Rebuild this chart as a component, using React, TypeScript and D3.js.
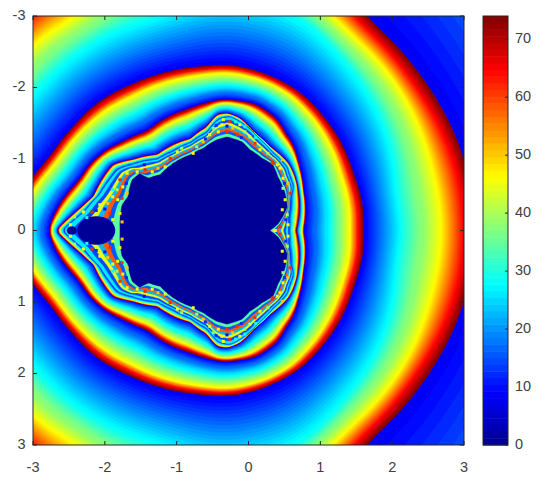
import React from "react";
import * as d3 from "d3";

// Iso-lines, upper half only (the picture mirrors about y = 0), in axis units.
type P = [number, number];
const centre: P = [-0.6, 0];
const farBlue: P[] = [[4.2,0],[3.9,-1.5],[3.1,-3.2],[1,-5.2],[-1,-6],[-4,-5],[-7,-2],[-7,0]];
const ring0: P[] = [[3.13,0],[3,-0.99],[2.44,-2.1],[1.6,-3],[0,-4.5],[-1,-4.5],[-3.3,-3.3],[-4.5,-1.8],[-5.4,0]];
const iso65: P[] = [[3,0],[2.99,-0.43],[2.86,-0.99],[2.3,-2.06],[1.5,-2.95],[0,-4.2],[-1,-4.2],[-3,-3.05],[-4,-1.7],[-5,0]];
const iso46: P[] = [[2.68,0],[2.54,-0.89],[2.08,-2],[1.28,-2.85],[1.17,-3],[0,-3.75],[-1,-3.8],[-2.35,-3],[-3,-2.6],[-3.7,-1.5],[-4.6,0]];
const iso28: P[] = [[2.16,0],[2.07,-0.4],[1.88,-1.5],[1.28,-2.43],[0.7,-3],[-0.3,-3.25],[-1.26,-3],[-3,-1.9],[-3.6,-1],[-4,0]];
const ring1: P[] = [[1.6,0],[1.59,-0.33],[1.46,-0.8],[1.28,-1.25],[1.05,-1.59],[0.68,-1.96],[0.21,-2.2],[-0.25,-2.31],[-0.67,-2.29],[-1.19,-2.2],[-1.65,-2.03],[-2.11,-1.78],[-2.44,-1.45],[-2.76,-1.03],[-3,-0.75],[-3.4,0]];
const ring2: P[] = [[0.76,0],[0.76,-0.57],[0.7,-0.92],[0.62,-1.2],[0.48,-1.41],[0.44,-1.52],[0.12,-1.76],[-0.35,-1.83],[-0.81,-1.71],[-1.19,-1.55],[-1.41,-1.39],[-1.75,-1.24],[-1.97,-1.13],[-2.21,-0.92],[-2.35,-0.71],[-2.48,-0.57],[-2.62,-0.38],[-2.72,-0.19],[-2.78,0]];
const ring3: P[] = [[0.66,0],[0.68,-0.61],[0.62,-0.82],[0.54,-0.96],[0.3,-1.17],[0.06,-1.38],[-0.12,-1.57],[-0.3,-1.64],[-0.44,-1.62],[-0.58,-1.45],[-0.81,-1.28],[-1.05,-1.2],[-1.27,-1.06],[-1.61,-0.99],[-1.89,-0.92],[-1.97,-0.82],[-2.16,-0.47],[-2.32,-0.33],[-2.48,-0.19],[-2.62,-0.06],[-2.67,0]];
const ring4: P[] = [[0.55,0],[0.55,-0.19],[0.58,-0.47],[0.62,-0.61],[0.55,-0.8],[0.54,-0.87],[0.34,-1.08],[0.16,-1.27],[-0.02,-1.45],[-0.26,-1.59],[-0.42,-1.55],[-0.58,-1.36],[-0.81,-1.22],[-1.05,-1.1],[-1.27,-0.99],[-1.61,-0.92],[-1.82,-0.85],[-1.93,-0.71],[-2.07,-0.5],[-2.28,-0.26],[-2.48,-0.09],[-2.58,0]];
const body: P[] = [[0.3,0],[0.41,-0.09],[0.54,-0.33],[0.51,-0.52],[0.41,-0.75],[0.34,-0.92],[0.19,-1.01],[0.02,-1.13],[-0.09,-1.24],[-0.3,-1.31],[-0.44,-1.27],[-0.63,-1.15],[-0.81,-1.06],[-1.05,-0.94],[-1.23,-0.78],[-1.4,-0.73],[-1.51,-0.8],[-1.62,-0.71],[-1.68,-0.47],[-1.76,-0.36],[-1.79,-0.03]];
const bulbs = [
  { x: -2.12, rx: 0.265, ry: 0.2 },
  { x: -2.46, rx: 0.07, ry: 0.06 },
];
// Spots seen in the speckled fringe: x, y (mirrored), value.
const speckles: [number, number, number][] = [
  [-0.35,-1.55,46],[-0.26,-1.52,62],[-0.37,-1.48,46],[-0.22,-1.43,50],[-0.3,-1.38,62],[-0.12,-1.48,46],[-0.05,-1.38,40],[-0.42,-1.38,46],[-0.16,-1.34,62],[-0.54,-1.34,46],[-0.63,-1.24,50],[-0.72,-1.17,40],[-0.77,-1.08,46],[0.02,-1.31,46],[0.09,-1.22,62],[0.16,-1.13,46],[0.27,-1.08,40],[0.33,-0.96,62],[0.4,-0.92,46],[0.47,-0.99,50],[-0.49,-1.43,36],
  [-0.3,-1.46,10],[-0.18,-1.52,30],[-0.45,-1.47,12],[-0.1,-1.3,12],[-0.05,-1.45,30],[0.1,-1.3,30],[-0.6,-1.28,12],
  [0.34,-0.94,62],[0.44,-0.87,46],[0.48,-0.73,46],[0.55,-0.66,50],[0.48,-0.59,40],[0.58,-0.52,62],[0.51,-0.43,46],[0.47,-0.29,46],[0.54,-0.22,40],[0.37,0,46],[0.44,-0.05,62],[0.55,-0.08,46],[0.5,-0.66,12],[0.52,-0.15,12],
  [-1.55,-0.82,46],[-1.44,-0.85,62],[-1.34,-0.82,46],[-1.26,-0.87,50],[-1.16,-0.89,46],[-1.09,-1.01,62],[-0.99,-1.1,46],[-0.93,-1.15,40],[-1.69,-0.8,46],[-1.79,-0.71,62],[-1.75,-0.61,46],[-1.83,-0.57,40],[-1.69,-0.52,50],[-1.89,-0.47,46],[-1.76,-0.45,62],
  [-1.89,-0.57,30],[-1.82,-0.43,46],[-1.96,-0.38,50],[-1.79,-0.24,46],[-1.93,-0.24,62],[-1.76,-0.12,50],[-2.07,-0.36,46],[-2.18,-0.26,62],[-2.3,-0.26,46],[-2.42,-0.19,40],[-2.48,-0.08,46],[-1.89,-0.15,46],
  [-2.12,-0.28,12],[-2.0,-0.3,10],[-1.7,-0.66,12],[-1.45,-0.92,10],[-2.25,-0.18,30],
];
// Value at the fraction of a narrow band's width, inner edge to outer edge.
const bandFractions = [0, 0.43, 0.77, 0.91, 1];
const bandValues = [8, 28, 46, 65, 74];
// Wavy stripes seen in the fringe between the fourth ring and the dark body, outer to inner.
const fringeFractions = [1, 0.86, 0.72, 0.58, 0.44, 0.3, 0.16];
const fringeValues = [26, 14, 44, 22, 58, 16, 34];
const axisTicks = [-3, -2, -1, 0, 1, 2, 3];
const barTicks = [0, 10, 20, 30, 40, 50, 60, 70];
const cMax = 74;

const xS = d3.scaleLinear().domain([-3, 3]).range([33, 464]);
const yS = d3.scaleLinear().domain([-3, 3]).range([16, 445]);
const barS = d3.scaleLinear().domain([0, cMax]).range([445, 16]);
const jetRamp = d3.scaleLinear<string>()
  .domain([0, 0.125, 0.375, 0.625, 0.875, 1])
  .range(["#000090", "#0000ff", "#00ffff", "#ffff00", "#ff0000", "#800000"])
  .interpolate(d3.interpolateRgb);
const nColors = 64;
const jet = (v: number) => {
  const i = Math.min(nColors - 1, Math.max(0, Math.floor((v / cMax) * nColors)));
  return jetRamp((i + 0.5) / nColors);
};

const angleDegrees = d3.range(-180, 181, 1);
const angles = angleDegrees.map((d) => (d * Math.PI) / 180);
// radius against angle for one iso-line, smoothed over +-w degrees
function polar(points: P[], w = 0) {
  const pol = points
    .map(([x, y]) => ({ t: Math.atan2(Math.abs(y), x - centre[0]), r: Math.hypot(x - centre[0], y) }))
    .sort((a, b) => a.t - b.t);
  const s = d3.scaleLinear().domain(pol.map((d) => d.t)).range(pol.map((d) => d.r)).clamp(true);
  const base = d3.range(0, 181).map((deg) => {
    const ks = d3.range(-w, w + 1);
    return d3.mean(ks, (k) => s((Math.abs(((deg + k + 180) % 360 + 360) % 360 - 180) * Math.PI) / 180)) as number;
  });
  return (t: number) => base[Math.min(180, Math.round((Math.abs(t) * 180) / Math.PI))];
}
const lineGen = d3.line<[number, number]>()
  .x((d) => xS(centre[0] + d[1] * Math.cos(d[0])))
  .y((d) => yS(d[1] * Math.sin(d[0])))
  .curve(d3.curveLinearClosed);
const shape = (rf: (t: number) => number) => lineGen(angles.map((t) => [t, rf(t)] as [number, number])) as string;

type Shape = { d: string; fill: string };
function buildShapes(): Shape[] {
  const out: Shape[] = [];
  const wide: [P[], number][] = [[farBlue, 15], [ring0, 8], [ring0, 74], [iso65, 65], [iso46, 46], [iso28, 28], [ring1, 8]];
  for (let k = 0; k < wide.length - 1; k++) {
    const [a, va] = wide[k];
    const [b, vb] = wide[k + 1];
    if (vb >= va) continue;
    const ra = polar(a, 6), rb = polar(b, b === ring1 ? 4 : 6);
    const levels = Math.max(2, Math.ceil(((va - vb) / cMax) * nColors));
    d3.range(levels).forEach((i) => {
      const f = i / levels;
      out.push({ d: shape((t) => ra(t) + (rb(t) - ra(t)) * f), fill: jet(va + (vb - va) * f) });
    });
  }
  const toFrac = d3.scaleLinear().domain(bandValues).range(bandFractions);
  const narrow: [P[], P[], number, number, number][] = [[ring1, ring2, 64, 4, 3], [ring2, ring3, 30, 3, 1], [ring3, ring4, 20, 1, 1]];
  narrow.forEach(([outer, inner, n, wo, wi]) => {
    const ro = polar(outer, wo), ri = polar(inner, wi);
    d3.range(n).forEach((i) => {
      const v = 74 - (66 * i) / n;
      const f = toFrac(v);
      out.push({ d: shape((t) => ri(t) + (ro(t) - ri(t)) * f), fill: jet(v) });
    });
  });
  const rf = polar(ring4, 1), rb = polar(body, 1);
  fringeFractions.forEach((f, i) => {
    out.push({ d: shape((t) => rb(t) + (rf(t) - rb(t)) * f), fill: jet(fringeValues[i]) });
  });
  out.push({ d: shape(polar(body)), fill: jet(0) });
  return out;
}

const ink = "#262626";
const textInk = "#404040";
const font = "'Liberation Sans', Arial, sans-serif";

export default function App() {
  const shapes = React.useMemo(buildShapes, []);
  const [x0, x1] = xS.range();
  const [y0, y1] = yS.range();
  const bx0 = 483, bx1 = 508;
  const cell = 3;
  return (
    <svg width={550} height={485} style={{ position: "absolute", left: 0, top: 0, background: "#fff" }} fontFamily={font} fontSize={14.5} fill={textInk}>
      <defs>
        <clipPath id="plot"><rect x={x0} y={y0} width={x1 - x0} height={y1 - y0} /></clipPath>
      </defs>
      <g clipPath="url(#plot)">
        <rect x={x0} y={y0} width={x1 - x0} height={y1 - y0} fill={jet(15)} />
        {shapes.map((s, i) => <path key={i} d={s.d} fill={s.fill} stroke={s.fill} strokeWidth={0.3} />)}
        {bulbs.map((b, i) => (
          <ellipse key={i} cx={xS(b.x)} cy={yS(0)} rx={xS(b.rx) - xS(0)} ry={yS(b.ry) - yS(0)} fill={jet(0)} />
        ))}
        {speckles.flatMap(([x, y, v], i) => [y, -y].map((yy, j) => (
          <rect key={`${i}-${j}`} x={xS(x) - cell / 2} y={yS(yy) - cell / 2} width={cell} height={cell} fill={jet(v)} />
        )))}
      </g>
      <rect x={x0} y={y0} width={x1 - x0} height={y1 - y0} fill="none" stroke={ink} />
      {axisTicks.map((t) => (
        <g key={t}>
          <line x1={xS(t)} x2={xS(t)} y1={y1} y2={y1 - 4} stroke={ink} />
          <line x1={xS(t)} x2={xS(t)} y1={y0} y2={y0 + 4} stroke={ink} />
          <line y1={yS(t)} y2={yS(t)} x1={x0} x2={x0 + 4} stroke={ink} />
          <line y1={yS(t)} y2={yS(t)} x1={x1} x2={x1 - 4} stroke={ink} />
          <text x={xS(t)} y={468} textAnchor="middle" dominantBaseline="middle">{t}</text>
          <text x={25.5} y={yS(t)} textAnchor="end" dominantBaseline="middle">{t}</text>
        </g>
      ))}
      {d3.range(nColors).map((i) => {
        const a = (i / nColors) * cMax, b = ((i + 1) / nColors) * cMax;
        return <rect key={i} x={bx0} y={barS(b)} width={bx1 - bx0} height={barS(a) - barS(b) + 0.5} fill={jet((a + b) / 2)} />;
      })}
      <rect x={bx0} y={y0} width={bx1 - bx0} height={y1 - y0} fill="none" stroke={ink} />
      {barTicks.map((t) => (
        <g key={t}>
          <line x1={bx1} x2={bx1 - 3} y1={barS(t)} y2={barS(t)} stroke={ink} />
          <text x={515} y={barS(t)} dominantBaseline="middle">{t}</text>
        </g>
      ))}
    </svg>
  );
}
